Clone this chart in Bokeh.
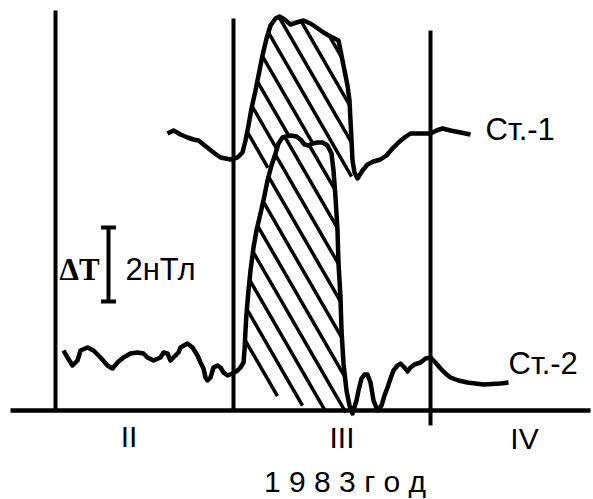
import numpy as np
from bokeh.plotting import figure
from bokeh.models import Range1d
from bokeh.core.properties import value
from bokeh.embed import file_html
from bokeh.resources import INLINE

# ---- data (x = time axis, y = field level, downward) ----
st1_x = [167, 173, 180, 187, 193, 198, 203, 208, 213, 220, 230, 237, 242,
         245, 248, 251, 255, 258, 262, 266, 270, 275, 279, 284, 290, 296, 303, 310, 316, 323, 330, 338,
         341, 344, 347, 349, 350, 351, 352, 354, 357,
         362, 367, 373, 380, 386, 392, 398, 404, 410, 420, 430, 436, 442, 450, 460, 470]
st1_y = [133, 130, 134, 137, 139, 140, 144, 148, 152, 157, 159, 157, 152,
         140, 125, 108, 90, 75, 55, 38, 25, 18, 16, 19, 24, 22, 20, 23, 27, 32, 36, 40,
         55, 70, 85, 100, 120, 140, 160, 172, 178,
         170, 164, 161, 159, 155, 148, 142, 137, 133, 133, 133, 130, 128, 130, 132, 134]

st2_x = [63, 67, 72, 77, 80, 87, 93, 100, 107, 112, 117, 123, 130, 137, 143, 147, 153, 160, 163, 167,
         170, 173, 178, 180, 187, 192, 197, 200, 203, 205, 207, 210, 213, 217, 220, 223, 227, 232, 237,
         240, 243,
         244, 245, 246, 248, 250, 253, 256, 260, 264, 267, 271, 275, 278, 282, 290, 296, 300, 304, 308,
         312, 317, 322, 327, 331, 333, 335, 337, 338, 340, 341, 343, 346, 349, 352,
         356, 358, 361, 364, 367, 370, 373, 377, 381, 384, 387, 390, 393, 397, 400, 404, 407, 410, 414,
         420, 425, 430, 435, 440, 445, 450, 458, 467, 483, 500, 508]
st2_y = [350, 357, 365, 360, 350, 347, 350, 357, 365, 368, 362, 357, 353, 352, 353, 357, 360, 357, 352, 353,
         360, 357, 352, 347, 343, 347, 355, 362, 368, 377, 380, 377, 367, 365, 367, 372, 375, 373, 370,
         367, 362,
         350, 330, 313, 290, 270, 247, 230, 213, 195, 180, 165, 153, 143, 137, 135, 136, 139, 144, 145,
         143, 142, 142, 145, 153, 170, 197, 230, 263, 297, 330, 363, 390, 405, 413,
         400, 390, 378, 374, 374, 382, 400, 410, 405, 395, 387, 378, 370, 365, 363, 367, 371, 367, 364,
         362, 358, 357, 362, 368, 373, 377, 380, 382, 384, 383, 382]

# lower edges of the hatched areas
area1_low_x = [257, 243]
area1_low_y = [174, 158]
area2_low_x = [310, 275, 253]
area2_low_y = [408, 395, 388]

# period boundaries (vertical lines) and time axis
period_x = [55, 233, 430]
period_top = [10, 18, 30]
period_bottom = [410, 410, 425]
axis_x = [10, 590]
axis_y = [410, 410]

period_labels = ["II", "III", "IV"]
period_label_x = [128.5, 341.5, 524]
period_label_y = [436, 437, 438]

# scale bar: 2 nT
bar_x = 108
bar_top, bar_bottom = 227, 301

p = figure(width=593, height=499, output_backend="svg", toolbar_location=None,
           x_range=Range1d(0, 593), y_range=Range1d(499, 0),
           x_axis_location=None, y_axis_location=None, min_border=0,
           background_fill_color="white", border_fill_color="white")
p.grid.visible = False
p.outline_line_color = None


def hatch_segments(xs, ys, angle_deg, spacing, phase):
    P = np.column_stack([xs, ys]).astype(float)
    th = np.radians(angle_deg)
    d = np.array([np.cos(th), np.sin(th)])
    n = np.array([-np.sin(th), np.cos(th)])
    proj = P @ n
    start = np.floor((proj.min() - phase) / spacing) * spacing + phase
    x0, y0, x1, y1 = [], [], [], []
    m = len(P)
    for c in np.arange(start, proj.max(), spacing):
        pts = []
        for i in range(m):
            j = (i + 1) % m
            fa, fb = proj[i] - c, proj[j] - c
            if (fa < 0) != (fb < 0):
                t = fa / (fa - fb)
                pts.append(P[i] + t * (P[j] - P[i]))
        pts.sort(key=lambda q: q @ d)
        for k in range(0, len(pts) - 1, 2):
            a, b = pts[k], pts[k + 1]
            x0.append(a[0]); y0.append(a[1]); x1.append(b[0]); y1.append(b[1])
    return x0, y0, x1, y1


s1x, s1y = np.array(st1_x), np.array(st1_y)
s2x, s2y = np.array(st2_x), np.array(st2_y)

# hatched area 1: hump of Ст.-1 above the hump of Ст.-2
m1 = (s1x >= 241) & (s1x <= 357)
m2top = (s2x > 265) & (s2x < 336) & (s2y < 178)
a1x = list(s1x[m1]) + list(s2x[m2top][::-1]) + area1_low_x
a1y = list(s1y[m1]) + list(s2y[m2top][::-1]) + area1_low_y
# hatched area 2: hump of Ст.-2
m2 = (s2x >= 242) & (s2x <= 352)
a2x = list(s2x[m2]) + area2_low_x
a2y = list(s2y[m2]) + area2_low_y

for ax_, ay_, ph in [(a1x, a1y, 5.0), (a2x, a2y, 9.0)]:
    x0, y0, x1, y1 = hatch_segments(ax_, ay_, 60, 17, ph)
    p.segment(x0=x0, y0=y0, x1=x1, y1=y1, line_color="black", line_width=3.5)

# period lines and axis
p.segment(x0=period_x, y0=period_top, x1=period_x, y1=period_bottom,
          line_color="black", line_width=4)
p.line(axis_x, axis_y, line_color="black", line_width=4.5)

# curves
p.line(st1_x, st1_y, line_color="black", line_width=4.5, line_join="round")
p.line(st2_x, st2_y, line_color="black", line_width=4.5, line_join="round")

# scale bar
p.segment(x0=[bar_x, bar_x - 7.5, bar_x - 7.5], y0=[bar_top, bar_top, bar_bottom],
          x1=[bar_x, bar_x + 7.5, bar_x + 7.5], y1=[bar_bottom, bar_top, bar_bottom],
          line_color="black", line_width=4)

sans = value("Liberation Sans")
p.text(x=[59], y=[269], text=["ΔT"], text_font=value("Liberation Serif"), text_font_style="bold",
       text_font_size="31px", text_baseline="alphabetic", text_align="left", text_color="black")
p.text(x=[125], y=[269], text=["2нТл"], text_font=sans, text_font_size="31px",
       text_baseline="alphabetic", text_align="left", text_color="black")
p.text(x=[485], y=[129], text=["Ст.-1"], text_font=sans, text_font_size="31px",
       text_baseline="alphabetic", text_align="left", text_color="black")
p.text(x=[508], y=[363], text=["Ст.-2"], text_font=sans, text_font_size="31px",
       text_baseline="alphabetic", text_align="left", text_color="black")
p.text(x=period_label_x, y=period_label_y, text=period_labels, text_font=sans, text_font_size="30px",
       text_baseline="alphabetic", text_align="center", text_color="black")
p.text(x=[344.5], y=[481], text=["1 9 8 3 г о д"], text_font=sans, text_font_size="30px",
       text_baseline="alphabetic", text_align="center", text_color="black")

open("out.html", "w").write(file_html(p, INLINE))
